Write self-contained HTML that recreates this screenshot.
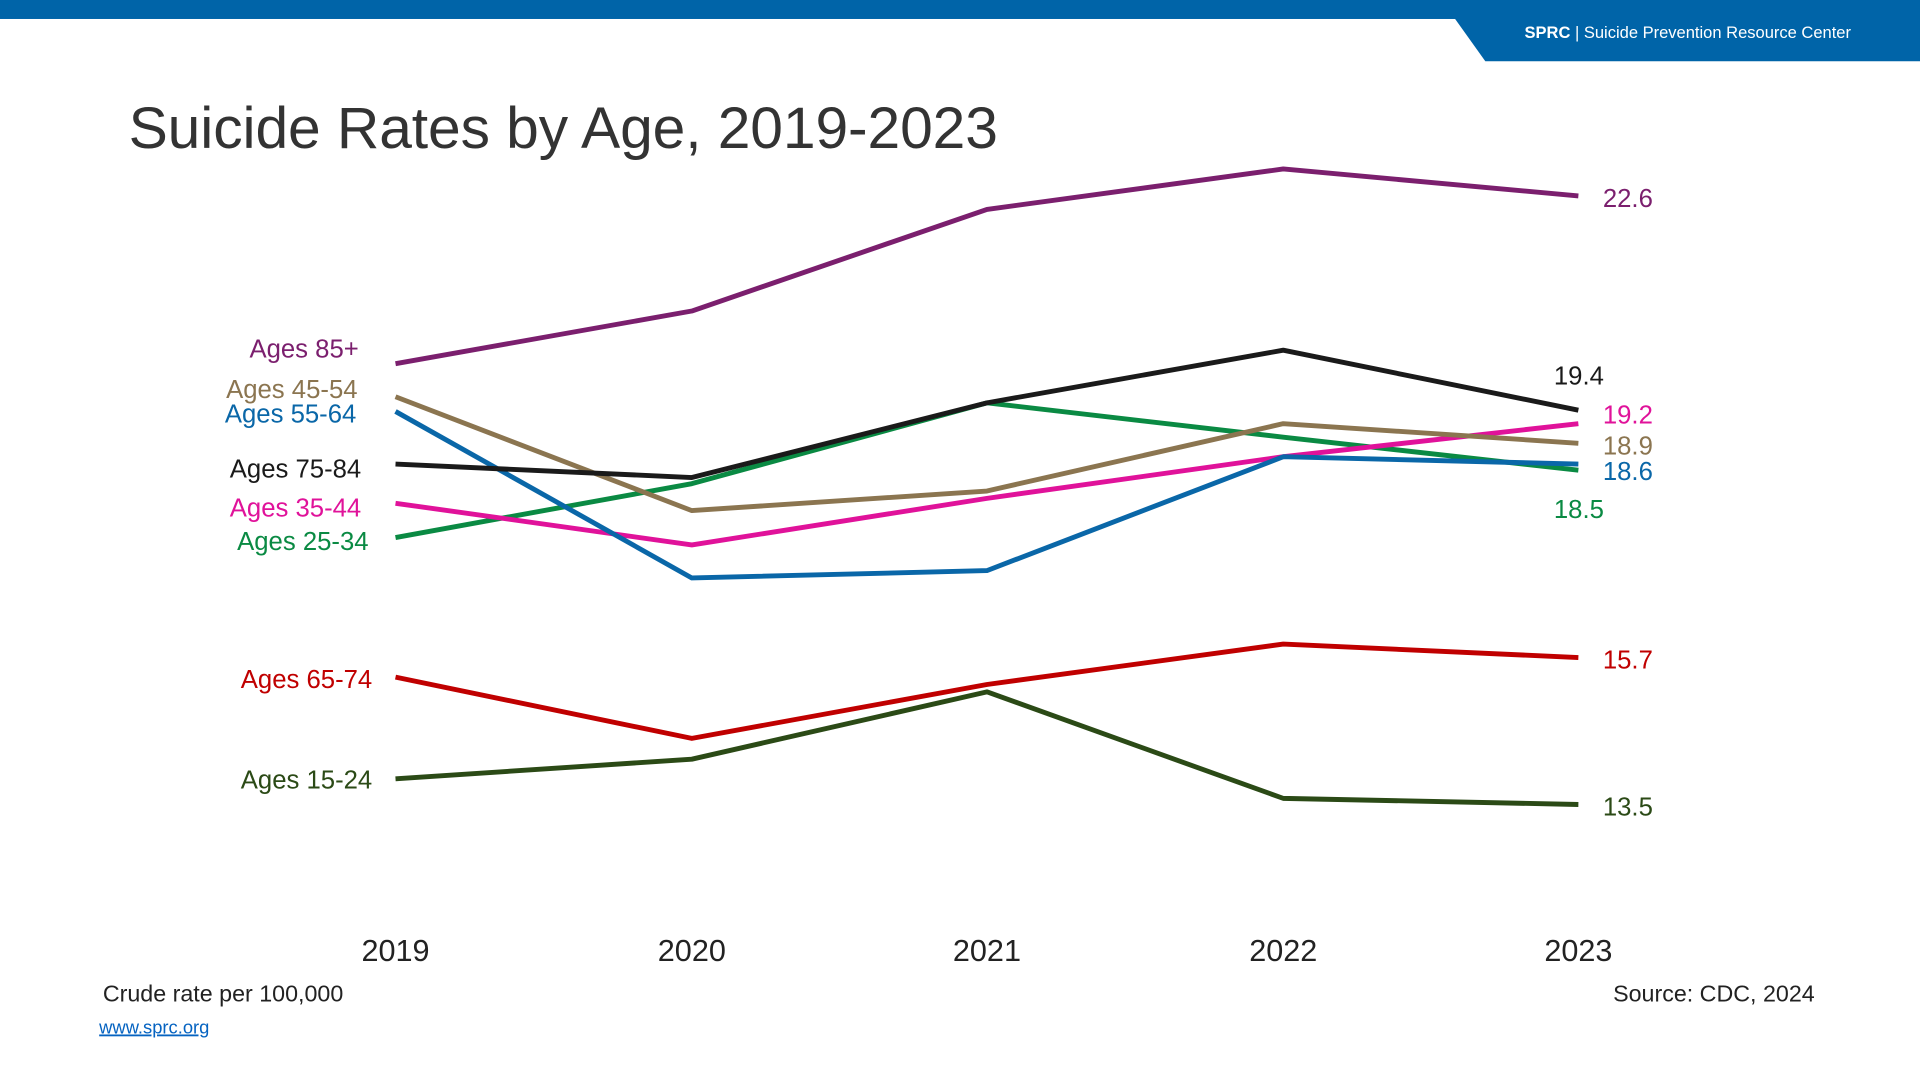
<!DOCTYPE html>
<html><head><meta charset="utf-8"><style>
html,body{margin:0;padding:0;background:#fff;}
svg{display:block;}
text{font-family:"Liberation Sans",sans-serif;}
</style></head><body>
<svg width="1920" height="1080" viewBox="0 0 1568 882" xmlns="http://www.w3.org/2000/svg">
<rect x="0" y="0" width="1568" height="15.5" fill="#0064A8"/>
<polygon points="1188,15 1568,15 1568,50 1213,50" fill="#0064A8"/>
<text x="1245" y="31" font-size="13.5" fill="#fff"><tspan font-weight="bold">SPRC</tspan>  |  Suicide Prevention Resource Center</text>
<text x="105" y="121" font-size="48" fill="#333" textLength="710">Suicide Rates by Age, 2019-2023</text>
<g fill="none" stroke-width="4" stroke-linejoin="round">
<polyline stroke="#2B4A16" points="323,636 565,620 806,565 1048,652 1289,657"/>
<polyline stroke="#C00000" points="323,553 565,603 806,559 1048,526 1289,537"/>
<polyline stroke="#0A8A43" points="323,439 565,395 806,329 1048,357 1289,384"/>
<polyline stroke="#E0129A" points="323,411 565,445 806,407 1048,373 1289,346"/>
<polyline stroke="#0A67A8" points="323,336 565,472 806,466 1048,373 1289,379"/>
<polyline stroke="#8B7550" points="323,324 565,417 806,401 1048,346 1289,362"/>
<polyline stroke="#1A1A1A" points="323,379 565,390 806,329 1048,286 1289,335"/>
<polyline stroke="#7B1F6E" points="323,297 565,254 806,171 1048,138 1289,160"/>
</g>
<g font-size="21" text-anchor="end">
<text x="293" y="292" fill="#7B1F6E">Ages 85+</text>
<text x="292" y="325" fill="#8B7550">Ages 45-54</text>
<text x="291" y="345" fill="#0A67A8">Ages 55-64</text>
<text x="295" y="390" fill="#1A1A1A">Ages 75-84</text>
<text x="295" y="422" fill="#E0129A">Ages 35-44</text>
<text x="301" y="449" fill="#0A8A43">Ages 25-34</text>
<text x="304" y="562" fill="#C00000">Ages 65-74</text>
<text x="304" y="644" fill="#2B4A16">Ages 15-24</text>
</g>
<g font-size="21">
<text x="1309" y="169" fill="#7B1F6E">22.6</text>
<text x="1269" y="314" fill="#1A1A1A">19.4</text>
<text x="1309" y="346" fill="#E0129A">19.2</text>
<text x="1309" y="371" fill="#8B7550">18.9</text>
<text x="1309" y="392" fill="#0A67A8">18.6</text>
<text x="1269" y="423" fill="#0A8A43">18.5</text>
<text x="1309" y="546" fill="#C00000">15.7</text>
<text x="1309" y="666" fill="#2B4A16">13.5</text>
</g>
<g font-size="25" fill="#222" text-anchor="middle">
<text x="323" y="785">2019</text>
<text x="565" y="785">2020</text>
<text x="806" y="785">2021</text>
<text x="1048" y="785">2022</text>
<text x="1289" y="785">2023</text>
</g>
<text x="84" y="818" font-size="19" fill="#222">Crude rate per 100,000</text>
<text x="1482" y="818" font-size="19" fill="#222" text-anchor="end">Source: CDC, 2024</text>
<text x="81" y="844" font-size="15" fill="#0563C1" text-decoration="underline">www.sprc.org</text>
</svg>
</body></html>
